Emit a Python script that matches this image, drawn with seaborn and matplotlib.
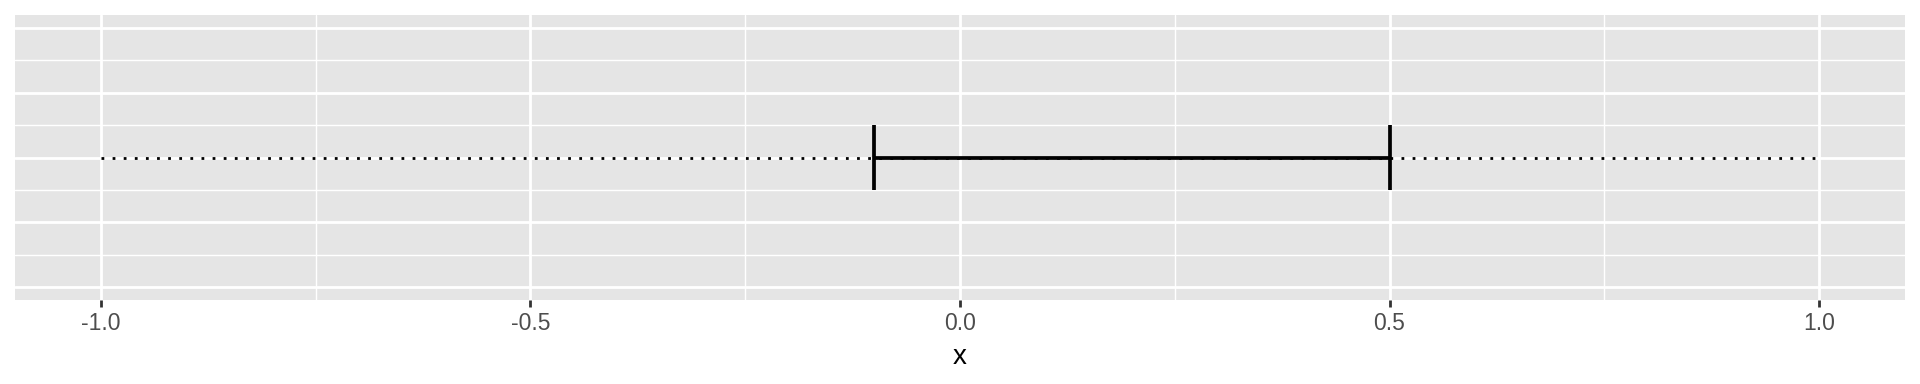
import matplotlib
matplotlib.use("Agg")
import matplotlib.pyplot as plt
import seaborn as sns
import pandas as pd
from matplotlib.ticker import FixedLocator

# data
range_x = [-1.0, 1.0]
ci_low = -0.1
ci_high = 0.5
y_level = 0.0
x_ticks = [-1.0, -0.5, 0.0, 0.5, 1.0]
x_ticklabels = ["-1.0", "-0.5", "0.0", "0.5", "1.0"]

sns.set_theme(style="darkgrid")
plt.rcParams["font.family"] = ["Liberation Sans", "DejaVu Sans"]

fig, ax = plt.subplots(figsize=(19.2, 3.84), dpi=100)
fig.subplots_adjust(left=15/1920, right=1905/1920, top=1-15/384, bottom=1-300/384)

ax.set_facecolor("#E5E5E5")
for s in ax.spines.values():
    s.set_visible(False)

df = pd.DataFrame({"x": range_x, "y": [y_level, y_level]})
sns.lineplot(data=df, x="x", y="y", ax=ax, color="black", linewidth=2.0,
             dashes=False, zorder=3)
ax.lines[-1].set_dashes((1, 3))

ax.errorbar([(ci_low + ci_high) / 2], [y_level],
            xerr=[[(ci_high - ci_low) / 2], [(ci_high - ci_low) / 2]],
            fmt="none", ecolor="black", elinewidth=2.7, capsize=0, zorder=4)
# caps as vertical errorbars at the ends
ax.errorbar([ci_low, ci_high], [y_level, y_level], yerr=0.5,
            fmt="none", ecolor="black", elinewidth=2.7, capsize=0, zorder=4)

ax.set_xlim(-1.1, 1.1)
ax.set_ylim(-2.2, 2.2)
ax.xaxis.set_major_locator(FixedLocator(x_ticks))
ax.xaxis.set_minor_locator(FixedLocator([-0.75, -0.25, 0.25, 0.75]))
ax.yaxis.set_major_locator(FixedLocator([-2, -1, 0, 1, 2]))
ax.yaxis.set_minor_locator(FixedLocator([-1.5, -0.5, 0.5, 1.5]))
ax.set_xticklabels(x_ticklabels)
ax.set_yticklabels([])

ax.grid(which="major", color="white", linewidth=2.0)
ax.grid(which="minor", color="white", linewidth=1.0)
ax.set_axisbelow(True)

ax.tick_params(axis="x", which="major", length=5, width=2, color="#333333",
               labelsize=16.5, labelcolor="#4D4D4D", pad=4, bottom=True)
ax.tick_params(axis="x", which="minor", length=0)
ax.tick_params(axis="y", which="both", length=0, left=False)

ax.set_xlabel("x", fontsize=20, color="black", labelpad=6)
ax.set_ylabel("")

fig.savefig("out.png", dpi=100, facecolor="white")
